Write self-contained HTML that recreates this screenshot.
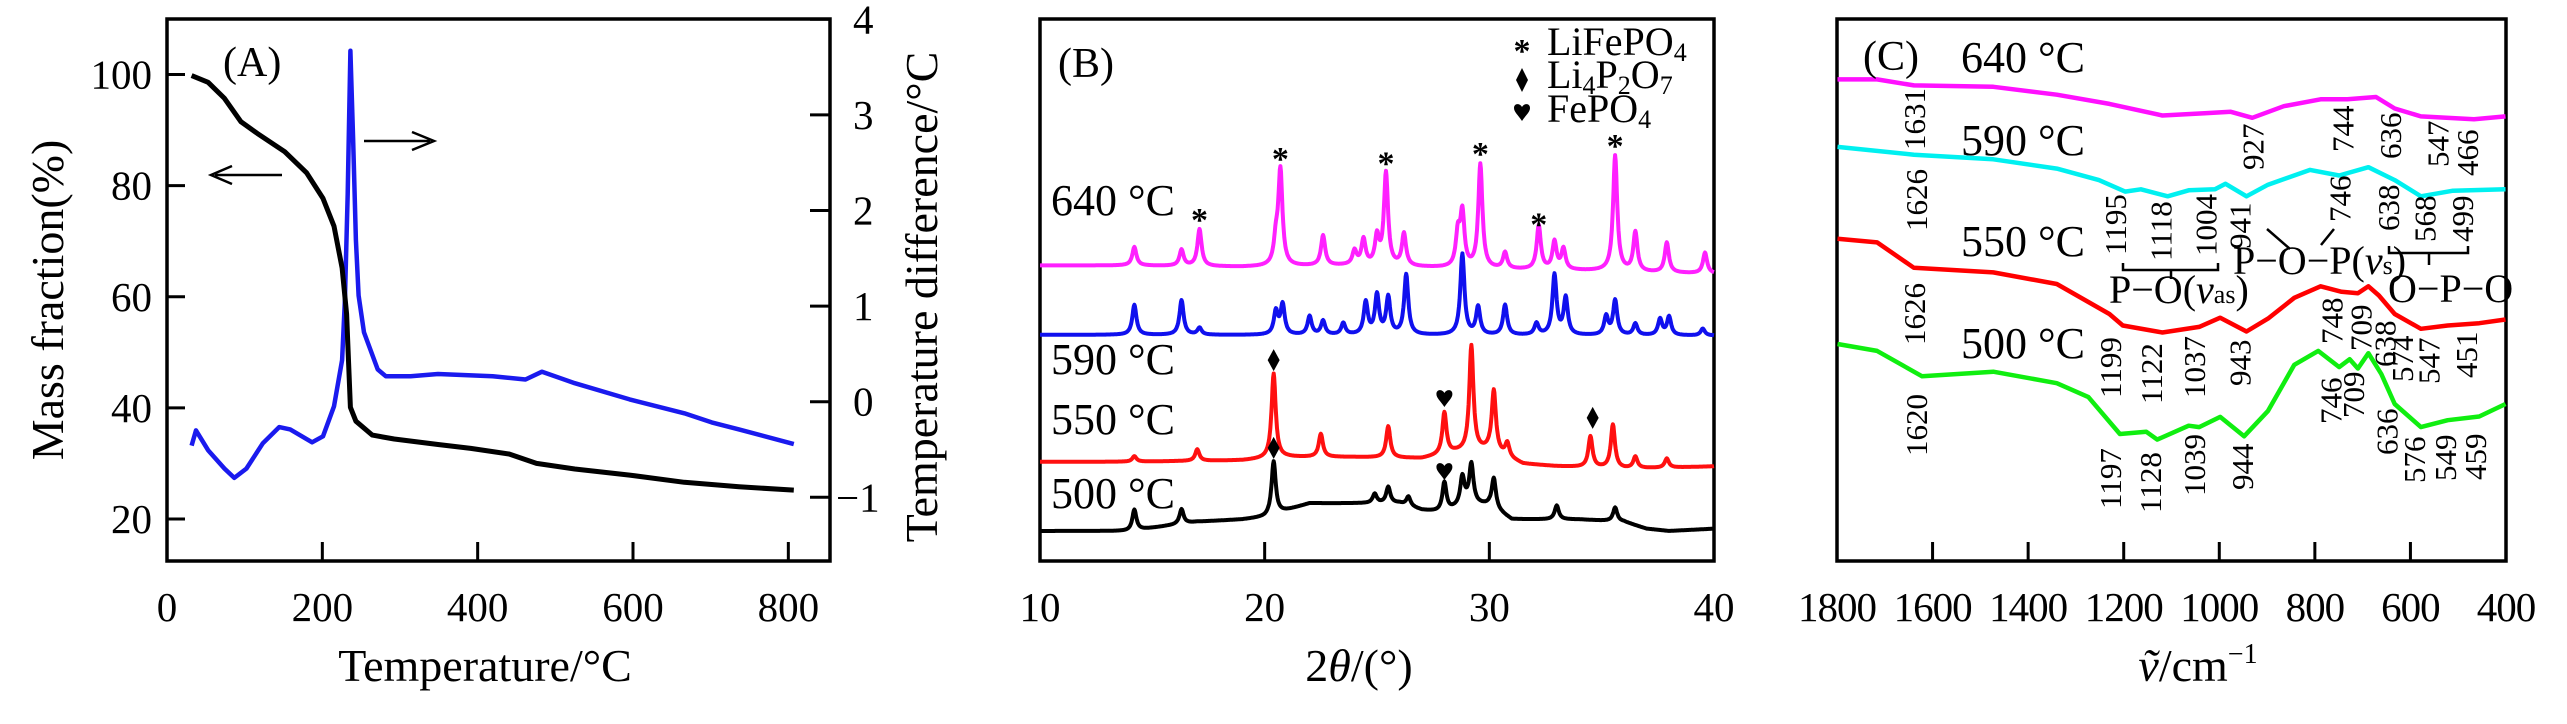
<!DOCTYPE html>
<html><head><meta charset="utf-8"><style>
html,body{margin:0;padding:0;background:#fff;}
svg{display:block;font-family:"Liberation Serif","Times New Roman",serif;}
</style></head><body>
<svg id="fig" width="2567" height="724" viewBox="0 0 2567 724" xmlns="http://www.w3.org/2000/svg">
<g id="A"></g>
<g id="B"></g>
<g id="C"></g>
</svg>
<script>
// ---------- Panel A data ----------
const tgTemp = [31.7,52.9,74.0,95.1,116.3,151.5,179.7,200.9,215.0,225.5,231.2,236.1,243.2,264.3,292.5,348.9,391.2,440.5,475.7,525.1,595.6,666.0,736.5,807];
const tgMass = [99.8,98.6,95.7,91.5,89.4,86.1,82.3,77.7,72.7,65.2,56.9,40.1,37.6,35.1,34.4,33.4,32.7,31.7,30.0,29.0,27.9,26.6,25.8,25.2];
const dtaTemp = [31.7,37.4,52.9,74.0,86.7,102.2,123.3,144.5,158.6,186.8,200.9,215.0,225.5,229.1,232.6,236.1,239.6,243.2,246.7,253.7,271.3,281.9,313.6,348.9,419.4,461.6,482.8,525.1,595.6,666.0,701.3,736.5,807.0];
const dtaDiff = [-0.459,-0.300,-0.507,-0.700,-0.797,-0.700,-0.435,-0.266,-0.290,-0.425,-0.362,-0.048,0.435,1.063,2.174,3.671,2.754,1.691,1.111,0.725,0.338,0.266,0.266,0.290,0.266,0.232,0.314,0.193,0.024,-0.121,-0.217,-0.290,-0.444];
const aXTicks = [0,200,400,600,800];
const aYTicks = [20,40,60,80,100];
const aY2Ticks = [-1,0,1,2,3,4];

// ---------- Panel B data (peak positions 2θ, heights a.u.) ----------
const xrdLabels = ["640 °C","590 °C","550 °C","500 °C"];
const xrdColors = ["#ff20ff","#1010ee","#ff1010","#000000"];
const pk640 = [14.2,16.3,17.1,20.5,20.7,22.6,24.0,24.4,25.0,25.4,26.2,28.6,28.8,29.6,30.7,32.2,32.9,33.3,35.6,36.5,37.9,39.6];
const h640  = [40,35,80,50,205,65,30,55,60,200,70,70,115,225,35,95,60,45,250,85,65,45];
const pk590 = [14.2,16.3,17.1,20.5,20.8,22.0,22.6,23.5,24.5,25.0,25.5,26.3,28.8,29.5,30.7,32.1,32.9,33.4,35.2,35.6,36.5,37.6,38.0,39.5];
const h590  = [65,75,15,50,65,40,30,25,70,85,80,130,175,60,65,25,130,80,40,75,25,35,40,15];
const pk550 = [14.2,17.0,20.4,22.5,25.5,28.0,29.2,30.2,30.8,34.5,35.5,36.5,37.9];
const h550  = [12,25,183,50,68,90,228,132,30,67,94,25,20];
const pk500 = [14.2,16.3,20.4,24.9,25.5,26.4,28.0,28.8,29.2,30.2,33.0,35.6];
const h500  = [45,32,115,20,35,20,65,60,85,65,30,30];
const base640X=[10,14,19,24,30,35,37,40], base640Y=[640,640,637,640,632,628,625,622];
const base590X=[10,40], base590Y=[490,488];
const base550X=[10,14,19,21,24,27,28.5,30,31.5,33,36,38,40], base550Y=[215,215,218,225,225,222,235,240,210,205,200,202,205];
const base500X=[10,14,17,19,20,21,22,26,27,28,29,30,31,34,36,37,38,40], base500Y=[65,65,85,90,95,110,125,125,110,105,125,120,90,90,85,70,65,70];
const bXTicks=[10,20,30,40];
const starPos=[17.1,20.7,25.4,29.6,32.2,35.6], starI=[745,877,867,888,735,905];
const diamondPos=[20.4,20.4,34.6], diamondI=[435,245,310];
const heartPos=[28.0,28.0], heartI=[353,195];

// ---------- Panel C data (wavenumber, transmittance a.u.) ----------
const irLabels=["640 °C","590 °C","550 °C","500 °C"];
const irColors=["#ff10ff","#00f0f0","#ff0000","#10ee10"];
const ir640W=[1799,1716,1639,1473,1340,1230,1119,1031,976,931,865,788,732,672,633,578,467,401];
const ir640T=[10.43,10.43,10.30,10.27,10.10,9.90,9.65,9.70,9.73,9.60,9.85,10.0,10.0,10.05,9.80,9.63,9.57,9.63];
const ir590W=[1799,1639,1473,1340,1252,1197,1164,1108,1064,1009,987,943,898,810,749,688,633,578,511,401];
const ir590T=[8.97,8.80,8.70,8.50,8.25,8.00,8.05,7.90,8.03,8.05,8.17,7.90,8.15,8.47,8.35,8.53,8.25,7.90,8.02,8.05];
const ir550W=[1799,1716,1639,1473,1340,1230,1202,1119,1042,998,943,898,843,788,744,710,688,666,633,578,522,456,401];
const ir550T=[6.98,6.90,6.35,6.25,6.00,5.35,5.10,4.95,5.07,5.27,4.97,5.25,5.70,5.95,5.83,5.80,5.95,5.75,5.35,5.03,5.10,5.15,5.23];
const ir500W=[1799,1716,1622,1473,1340,1274,1208,1153,1130,1064,1042,998,948,898,843,793,749,727,710,688,661,633,578,522,456,401];
const ir500T=[4.70,4.55,4.00,4.10,3.85,3.55,2.75,2.80,2.63,2.93,2.90,3.12,2.70,3.25,4.25,4.55,4.20,4.37,4.17,4.50,4.05,3.40,2.90,3.05,3.13,3.40];
const cXTicks=[1800,1600,1400,1200,1000,800,600,400];
const irPeakText=["1631","1626","1626","1620","927","744","636","547","466","1195","1118","1004","941","746","638","568","499","1199","1122","1037","943","748","709","638","574","547","451","746","709","636","576","549","459","1197","1128","1039","944"];
const irPeakW=[1638,1634,1638,1634,929,741,642,542,481,1217,1122,1028,957,747,646,569,491,1228,1142,1052,957,764,703,653,617,561,483,766,719,649,592,527,464,1228,1144,1052,951];
const irPeakBottom=[150,231,345,456,170,152,159,167,176,255,261,256,249,222,231,242,242,398,404,398,386,344,351,367,382,384,378,424,418,455,483,481,480,509,513,496,490];

const NS="http://www.w3.org/2000/svg";
function mk(parent,tag,attrs,text){const e=document.createElementNS(NS,tag);for(const k in attrs)e.setAttribute(k,attrs[k]);if(text!==undefined)e.textContent=text;parent.appendChild(e);return e;}
function pathFrom(xs,ys,fx,fy){let d="";for(let i=0;i<xs.length;i++){d+=(i?"L":"M")+fx(xs[i]).toFixed(1)+","+fy(ys[i]).toFixed(1);}return d;}
function interp(xs,ys,x){if(x<=xs[0])return ys[0];for(let i=1;i<xs.length;i++){if(x<=xs[i]){const t=(x-xs[i-1])/(xs[i]-xs[i-1]);return ys[i-1]+t*(ys[i]-ys[i-1]);}}return ys[ys.length-1];}

// ================= Panel A =================
(function(){
const g=document.getElementById('A');
const L=167,R=830,T=19,B=561;
const fx=t=>L+t*(789-323)/600;
const fy=m=>74.5+(100-m)*(519-74.5)/80;
const fy2=d=>401.7-d*95.6;
let e=mk(g,'rect',{x:L,y:T,width:R-L,height:B-T,fill:'none',stroke:'#000','stroke-width':3.5});


aXTicks.forEach(v=>{
  e=mk(g,'line',{x1:fx(v),x2:fx(v),y1:B,y2:B-19,stroke:'#000','stroke-width':3});
  
  
  e=mk(g,'text',{x:fx(v),y:621,'font-size':41,'text-anchor':'middle'},String(v));
  
  
});
aYTicks.forEach(v=>{
  e=mk(g,'line',{x1:L,x2:L+18,y1:fy(v),y2:fy(v),stroke:'#000','stroke-width':3});
  
  
  e=mk(g,'text',{x:152,y:fy(v)+14,'font-size':41,'text-anchor':'end'},String(v));
  
  
});
aY2Ticks.forEach(v=>{
  e=mk(g,'line',{x1:R,x2:R-20,y1:fy2(v),y2:fy2(v),stroke:'#000','stroke-width':3});
  
  
  e=mk(g,'text',{x:v<0?836:853,y:fy2(v)+14,'font-size':41},v<0?"−"+Math.abs(v):String(v));
  
  
});
e=mk(g,'text',{x:485,y:681,'font-size':46,'text-anchor':'middle'},"Temperature/°C");


e=mk(g,'text',{transform:'translate(63,300) rotate(-90)','font-size':46,'text-anchor':'middle'},"Mass fraction(%)");


e=mk(g,'text',{transform:'translate(937,297) rotate(-90)','font-size':46,'text-anchor':'middle'},"Temperature difference/°C");


e=mk(g,'text',{x:223,y:76,'font-size':42},"(A)");


e=mk(g,'path',{d:pathFrom(dtaTemp,dtaDiff,fx,fy2),fill:'none',stroke:'#1a1aee','stroke-width':4.5,'stroke-linejoin':'round'});


e=mk(g,'path',{d:pathFrom(tgTemp,tgMass,fx,fy),fill:'none',stroke:'#000','stroke-width':5,'stroke-linejoin':'round'});


e=mk(g,'path',{d:'M282,175 L215,175 M232,166 L211,175 L232,184',fill:'none',stroke:'#000','stroke-width':2.5});


e=mk(g,'path',{d:'M364,141 L430,141 M412,132 L434,141 L412,150',fill:'none',stroke:'#000','stroke-width':2.5});


})();

// ================= Panel B =================
(function(){
const g=document.getElementById('B');
const L=1040,R=1714,T=19,B=561;
const fx=t=>L+(t-10)*(R-L)/30;
const fy=I=>B-I*0.4617;
let e=mk(g,'rect',{x:L,y:T,width:R-L,height:B-T,fill:'none',stroke:'#000','stroke-width':3.5});


bXTicks.forEach(v=>{
  e=mk(g,'line',{x1:fx(v),x2:fx(v),y1:B,y2:B-19,stroke:'#000','stroke-width':3});
  
  
  e=mk(g,'text',{x:fx(v),y:621,'font-size':41,'text-anchor':'middle'},String(v));
  
  
});
const tt=mk(g,'text',{x:1359,y:681,'font-size':46,'text-anchor':'middle'});
tt.innerHTML='2<tspan font-style="italic">θ</tspan>/(°)';


const sets=[[pk640,h640,base640X,base640Y],[pk590,h590,base590X,base590Y],[pk550,h550,base550X,base550Y],[pk500,h500,base500X,base500Y]];
sets.forEach((s,k)=>{
  const xs=[],ys=[];
  for(let t=10;t<=40.0001;t+=0.025){
    let I=interp(s[2],s[3],t);
    for(let j=0;j<s[0].length;j++){const u=(t-s[0][j])/0.11;I+=s[1][j]/(1+u*u);}
    xs.push(t);ys.push(I);
  }
  const p=mk(g,'path',{d:pathFrom(xs,ys,fx,fy),fill:'none',stroke:xrdColors[k],'stroke-width':4,'stroke-linejoin':'round'});
  
  
});
const lblY=[215,374,434,508];
xrdLabels.forEach((s,k)=>{
  e=mk(g,'text',{x:1051,y:lblY[k],'font-size':44},s);
  
  
});
e=mk(g,'text',{x:1058,y:77,'font-size':42},"(B)");


starPos.forEach((t,i)=>{
  e=mk(g,'text',{x:fx(t),y:fy(starI[i])+14,'font-size':34,'text-anchor':'middle','font-weight':'bold'},"*");
  
  
});
diamondPos.forEach((t,i)=>{
  const x=fx(t),y=fy(diamondI[i]);
  e=mk(g,'path',{d:`M${x},${y-11}L${x+6},${y}L${x},${y+11}L${x-6},${y}Z`,fill:'#000'});
  
  
});
function heart(x,y,name){
  e=mk(g,'path',{d:`M${x},${y+9}C${x-4},${y+3} ${x-8},${y} ${x-8},${y-4}C${x-8},${y-9} ${x-2},${y-9} ${x},${y-5}C${x+2},${y-9} ${x+8},${y-9} ${x+8},${y-4}C${x+8},${y} ${x+4},${y+3} ${x},${y+9}Z`,fill:'#000'});
  
  
}
heartPos.forEach((t,i)=>heart(fx(t),fy(heartI[i]),'fepo4-marker'));
// legend
e=mk(g,'text',{x:1522,y:62,'font-size':34,'text-anchor':'middle','font-weight':'bold'},"*");


e=mk(g,'path',{d:'M1522,68L1528,80L1522,92L1516,80Z',fill:'#000'});


heart(1522,112,'legend-symbol-fepo4');
const leg=[['LiFePO','4',''],['Li','4','P','2','O','7'],['FePO','4','']];
const legY=[55,88,122];
const legNames=['legend-entry-lifepo4','legend-entry-li4p2o7','legend-entry-fepo4'];
const legHTML=['LiFePO<tspan font-size="26" dy="6">4</tspan>','Li<tspan font-size="26" dy="6">4</tspan><tspan dy="-6">P</tspan><tspan font-size="26" dy="6">2</tspan><tspan dy="-6">O</tspan><tspan font-size="26" dy="6">7</tspan>','FePO<tspan font-size="26" dy="6">4</tspan>'];
legHTML.forEach((h,i)=>{
  e=mk(g,'text',{x:1547,y:legY[i],'font-size':40});
  e.innerHTML=h;
  
  
});
})();

// ================= Panel C =================
(function(){
const g=document.getElementById('C');
const L=1837,R=2506,T=19,B=561;
const fx=w=>L+(1800-w)*(R-L)/1400;
const fy=v=>B-v*100*0.4617;
let e=mk(g,'rect',{x:L,y:T,width:R-L,height:B-T,fill:'none',stroke:'#000','stroke-width':3.5});


cXTicks.forEach(v=>{
  e=mk(g,'line',{x1:fx(v),x2:fx(v),y1:B,y2:B-19,stroke:'#000','stroke-width':3});
  
  
  e=mk(g,'text',{x:fx(v),y:621,'font-size':41,'text-anchor':'middle','letter-spacing':'-1'},String(v));
  
  
});
const tt=mk(g,'text',{x:2198,y:681,'font-size':46,'text-anchor':'middle'});
tt.innerHTML='<tspan font-style="italic">ṽ</tspan>/cm<tspan font-size="28" dy="-18">−1</tspan>';


const W=[ir640W,ir590W,ir550W,ir500W],TT=[ir640T,ir590T,ir550T,ir500T];
W.forEach((ws,k)=>{
  e=mk(g,'path',{d:pathFrom(ws,TT[k],fx,fy),fill:'none',stroke:irColors[k],'stroke-width':4.5,'stroke-linejoin':'round'});
  
  
});
const ly=[72,155,256,358];
irLabels.forEach((s,k)=>{
  e=mk(g,'text',{x:1961,y:ly[k],'font-size':44},s);
  
  
});
e=mk(g,'text',{x:1863,y:70,'font-size':42},"(C)");


irPeakText.forEach((s,i)=>{
  e=mk(g,'text',{transform:`translate(${fx(irPeakW[i]).toFixed(1)},${irPeakBottom[i]}) rotate(-90)`,'font-size':31,'dominant-baseline':'central'},s);
  
  
});
e=mk(g,'path',{d:'M2123,263L2123,270L2218,270L2218,263M2171,270L2171,279',fill:'none',stroke:'#000','stroke-width':2.5});


e=mk(g,'path',{d:'M2389,246L2389,253L2468,253L2468,246M2429,253L2429,265',fill:'none',stroke:'#000','stroke-width':2.5});


e=mk(g,'path',{d:'M2267,229L2290,249M2321,245L2334,229',fill:'none',stroke:'#000','stroke-width':2.5});


let t=mk(g,'text',{x:2109,y:303,'font-size':40});
t.innerHTML='P−O(<tspan font-style="italic">v</tspan><tspan font-size="26">as</tspan>)';


t=mk(g,'text',{x:2233,y:274,'font-size':40});
t.innerHTML='P−O−P(<tspan font-style="italic">v</tspan><tspan font-size="26">s</tspan>)';


t=mk(g,'text',{x:2388,y:302,'font-size':40},'O−P−O');


})();
</script>
</body></html>
